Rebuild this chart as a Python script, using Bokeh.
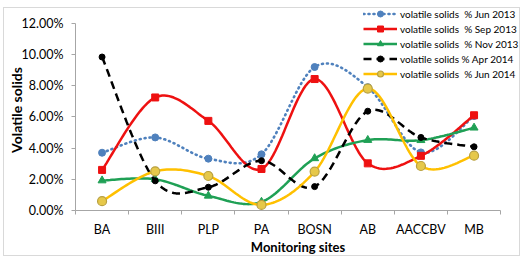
import numpy as np
from bokeh.plotting import figure
from bokeh.models import (FixedTicker, PrintfTickFormatter, Legend, LegendItem, Range1d)
from bokeh.embed import file_html
from bokeh.resources import INLINE

# ---------------- data ----------------
sites = ["BA", "BIII", "PLP", "PA", "BOSN", "AB", "AACCBV", "MB"]
jun2013 = [3.70, 4.68, 3.32, 3.60, 9.19, 7.90, 3.72, 6.05]
sep2013 = [2.60, 7.24, 5.74, 2.66, 8.42, 3.02, 3.50, 6.10]
nov2013 = [1.92, 2.00, 0.94, 0.55, 3.34, 4.51, 4.50, 5.30]
apr2014 = [9.83, 1.90, 1.49, 3.19, 1.53, 6.36, 4.68, 4.08]
jun2014 = [0.60, 2.51, 2.21, 0.36, 2.49, 7.81, 2.85, 3.51]
y_ticks = [0, 2, 4, 6, 8, 10, 12]
legend_labels = ["volatile solids  % Jun 2013", "volatile solids  % Sep 2013",
                 "volatile solids  % Nov 2013", "volatile solids % Apr 2014",
                 "volatile solids  % Jun 2014"]

FONT = "Lato"

def smooth(xs, ys, n=24):
    """Excel-style smoothed line: cubic Bezier segments (Catmull-Rom control points)."""
    x = np.asarray(xs, float)
    y = np.asarray(ys, float)
    xp = np.concatenate([[x[0]], x, [x[-1]]])
    yp = np.concatenate([[y[0]], y, [y[-1]]])
    t = np.linspace(0, 1, n)
    ox, oy = [], []
    for i in range(len(x) - 1):
        p0 = np.array([xp[i], yp[i]])
        p1 = np.array([xp[i + 1], yp[i + 1]])
        p2 = np.array([xp[i + 2], yp[i + 2]])
        p3 = np.array([xp[i + 3], yp[i + 3]])
        c1 = p1 + (p2 - p0) / 6.0
        c2 = p2 - (p3 - p1) / 6.0
        b = ((1 - t) ** 3)[:, None] * p1 + (3 * (1 - t) ** 2 * t)[:, None] * c1 \
            + (3 * (1 - t) * t ** 2)[:, None] * c2 + (t ** 3)[:, None] * p2
        if i > 0:
            b = b[1:]
        ox.extend(b[:, 0]); oy.extend(b[:, 1])
    return ox, oy

xpos = list(np.arange(len(sites)) + 0.5)

p = figure(width=517, height=249, output_backend="svg", toolbar_location=None,
           x_range=Range1d(0, 8.374), y_range=Range1d(0, 12.874),
           min_border_left=68, min_border_right=1, min_border_top=1,
           min_border_bottom=46, margin=(7, 0, 0, 3))
p.styles = {"border": "1px solid #D9D9D9"}
p.background_fill_color = "white"
p.border_fill_color = "white"
p.outline_line_color = None
p.xgrid.visible = False
p.ygrid.visible = False

axis_col = "#A6A6A6"

# x axis
xa = p.xaxis[0]
xa.bounds = (0, len(sites))
xa.ticker = FixedTicker(ticks=xpos, minor_ticks=list(range(len(sites) + 1)))
xa.major_label_overrides = {float(v): s for v, s in zip(xpos, sites)}
xa.major_tick_out = 0
xa.major_tick_in = 0
xa.minor_tick_out = 4
xa.minor_tick_in = 0
xa.minor_tick_line_color = axis_col
xa.axis_line_color = axis_col
xa.major_label_standoff = 7
xa.major_label_text_font = FONT
xa.major_label_text_font_size = "12.5px"
xa.major_label_text_color = "black"
xa.axis_label = "Monitoring sites"
xa.axis_label_text_font = FONT
xa.axis_label_text_font_style = "bold"
xa.axis_label_text_font_size = "13px"
xa.axis_label_text_color = "black"
xa.axis_label_standoff = -1

# y axis
ya = p.yaxis[0]
ya.bounds = (0, 12)
ya.ticker = FixedTicker(ticks=y_ticks, minor_ticks=[])
ya.formatter = PrintfTickFormatter(format="%.2f%%")
ya.major_tick_out = 4
ya.major_tick_in = 0
ya.major_tick_line_color = axis_col
ya.axis_line_color = axis_col
ya.major_label_standoff = 8
ya.major_label_text_font = FONT
ya.major_label_text_font_size = "12.5px"
ya.major_label_text_color = "black"
ya.axis_label = "Volatile solids"
ya.axis_label_text_font = FONT
ya.axis_label_text_font_style = "bold"
ya.axis_label_text_font_size = "14px"
ya.axis_label_text_color = "black"
ya.axis_label_standoff = -6

series = [
    (jun2013, dict(line_color="#4F81BD", line_dash="1 4", line_width=2.6, line_cap="round"),
     dict(marker="circle", size=7, fill_color="#4F81BD", line_color="#4F81BD")),
    (sep2013, dict(line_color="#EE1111", line_width=2.5),
     dict(marker="square", size=7, fill_color="#EE1111", line_color="#EE1111")),
    (nov2013, dict(line_color="#1FA055", line_width=2.5),
     dict(marker="triangle", size=8, fill_color="#1FA055", line_color="#1FA055")),
    (apr2014, dict(line_color="black", line_dash="8 5", line_width=2.5),
     dict(marker="circle", size=6, fill_color="black", line_color="black")),
    (jun2014, dict(line_color="#FFC000", line_width=2.5),
     dict(marker="circle", size=9, fill_color="#E6C84A", line_color="#B8A040", line_width=1.2)),
]

items = []
for (vals, lkw, mkw), lab in zip(series, legend_labels):
    sx, sy = smooth(xpos, vals)
    r1 = p.line(sx, sy, **lkw)
    r2 = p.scatter(xpos, vals, **mkw)
    items.append(LegendItem(label=lab, renderers=[r1, r2]))

legend = Legend(items=items, location=(288, 129), padding=0, margin=0, spacing=0,
                glyph_width=34, glyph_height=15, label_height=15, label_standoff=3,
                label_text_font=FONT, label_text_font_size="10px", label_text_color="black",
                border_line_color=None, background_fill_alpha=0)
p.add_layout(legend)

open("out.html", "w").write(file_html(p, INLINE))
